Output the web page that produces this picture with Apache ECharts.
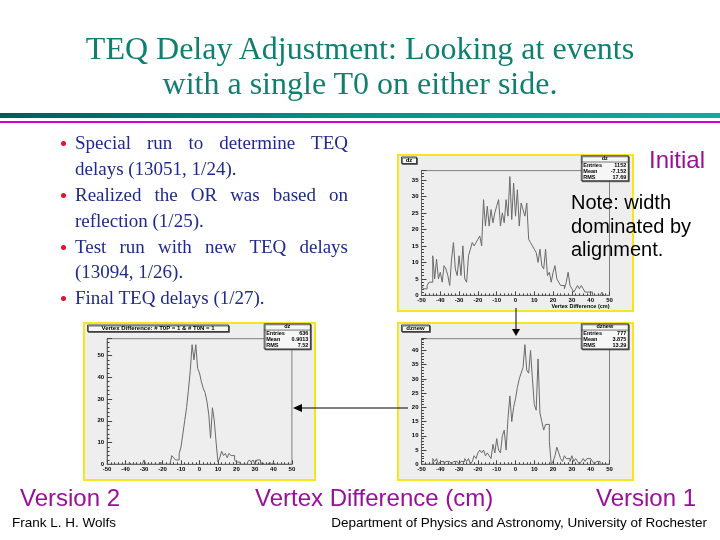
<!DOCTYPE html>
<html lang="en">
<head>
<meta charset="UTF-8">
<title>TEQ Delay Adjustment</title>
<script src="https://cdn.jsdelivr.net/npm/echarts@6.0.0/dist/echarts.min.js"></script>
<style>
  html, body { margin: 0; padding: 0; background: #fff; }
  #slide { position: relative; width: 720px; height: 540px; overflow: hidden; }
  #main { position: absolute; left: 0; top: 0; width: 720px; height: 540px; }
  .t { position: absolute; white-space: nowrap; line-height: 1; }
  .title { left: 0; width: 720px; text-align: center; font-family: 'Liberation Serif', serif;
           font-size: 32px; line-height: 32px; color: #0f7f70; }
  .rule1 { position: absolute; left: 0; top: 113px; width: 720px; height: 5px;
           background: linear-gradient(to right, #005d58, #00908c 45%, #10aaa8); }
  .rule2 { position: absolute; left: 0; top: 121px; width: 720px; height: 2px; background: #d400d4; }
  .bl { position: absolute; left: 75px; width: 273px; font-family: 'Liberation Serif', serif;
        font-size: 19px; line-height: 26px; color: #1f2a8c; white-space: nowrap; }
  .bl.full { text-align: justify; text-align-last: justify; white-space: normal; }
  .dot { position: absolute; left: 61px; width: 5px; height: 5px; border-radius: 50%; background: #e5102c; }
  .sans { font-family: 'Liberation Sans', Arial, sans-serif; }
  .purple { color: #9a0f9a; font-size: 24px; }
  .note { font-size: 20px; color: #000; }
  .foot { font-size: 13.5px; color: #000; }
</style>
</head>
<body>
<div id="slide">
  <div id="main"></div>

  <div class="t title" style="top:32px">TEQ Delay Adjustment: Looking at events</div>
  <div class="t title" style="top:67px">with a single T0 on either side.</div>
  <div class="rule1"></div>
  <div class="rule2"></div>

  <div class="dot" style="top:141px"></div>
  <div class="bl full" style="top:130px">Special run to determine TEQ</div>
  <div class="bl" style="top:156px">delays (13051, 1/24).</div>
  <div class="dot" style="top:193px"></div>
  <div class="bl full" style="top:182px">Realized the OR was based on</div>
  <div class="bl" style="top:208px">reflection (1/25).</div>
  <div class="dot" style="top:245px"></div>
  <div class="bl full" style="top:234px">Test run with new TEQ delays</div>
  <div class="bl" style="top:259px">(13094, 1/26).</div>
  <div class="dot" style="top:296px"></div>
  <div class="bl" style="top:285px">Final TEQ delays (1/27).</div>

  <div class="t sans purple" style="left:649px; top:148px">Initial</div>
  <div class="t sans note" style="left:571px; top:192px">Note: width</div>
  <div class="t sans note" style="left:571px; top:216px">dominated by</div>
  <div class="t sans note" style="left:571px; top:239px">alignment.</div>

  <div class="t sans purple" style="left:20px; top:486px">Version 2</div>
  <div class="t sans purple" style="left:255px; top:486px">Vertex Difference (cm)</div>
  <div class="t sans purple" style="left:596px; top:486px">Version 1</div>

  <div class="t sans foot" style="left:12px; top:516px">Frank L. H. Wolfs</div>
  <div class="t sans foot" style="right:13px; top:516px">Department of Physics and Astronomy, University of Rochester</div>
</div>

<script>
  // histogram binning: 100 bins of 1 cm from -50 to 50
  const binLow = -50;
  const binWidth = 1;

  // Initial (dz), counts per bin
  const dzInitial = [
    3, 2, 2, 3, 4, 4, 12, 5, 11, 5,
    7, 4, 9, 8, 6, 3, 11, 16, 8, 6,
    12, 6, 15, 5, 4, 12, 14, 16, 15, 16,
    17, 18, 15, 29, 21, 27, 21, 26, 22, 25,
    27, 29, 21, 25, 22, 29, 24, 36, 23, 34,
    24, 32, 21, 28, 26, 24, 28, 17, 16, 15,
    14, 13, 10, 14, 9, 8, 14, 6, 7, 4,
    7, 9, 5, 4, 3, 3, 2, 4, 7, 3,
    2, 1, 2, 3, 2, 3, 2, 1, 1, 1,
    1, 0, 0, 0, 0, 0, 1, 0, 0, 0
  ];
  // Version 1 (dznew)
  const dzVersion1 = [
    0, 0, 0, 0, 0, 0, 2, 1, 2, 0,
    1, 1, 0, 1, 1, 1, 0, 1, 1, 1,
    0, 1, 1, 2, 1, 2, 0, 1, 3, 2,
    4, 5, 4, 5, 3, 4, 3, 2, 7, 4,
    9, 5, 4, 10, 12, 5, 16, 24, 15, 20,
    23, 27, 30, 32, 34, 42, 33, 32, 40, 30,
    21, 19, 37, 18, 15, 12, 14, 14, 8, 0,
    1, 3, 6, 4, 2, 1, 3, 2, 2, 1,
    3, 1, 2, 1, 0, 1, 2, 1, 2, 2,
    2, 1, 0, 1, 1, 0, 0, 0, 0, 0
  ];
  // Version 2 (dz, single T0 on each side)
  const dzVersion2 = [
    0, 0, 0, 0, 0, 0, 0, 0, 0, 0,
    0, 0, 1, 0, 0, 0, 0, 0, 0, 0,
    2, 0, 0, 0, 0, 0, 0, 0, 0, 1,
    0, 0, 0, 0, 0, 4, 3, 2, 2, 5,
    8, 14, 20, 26, 34, 43, 55, 48, 55, 44,
    42, 38, 35, 33, 29, 23, 12, 26, 20, 10,
    1, 3, 6, 4, 5, 3, 5, 4, 4, 2,
    1, 1, 0, 0, 0, 0, 1, 2, 1, 2,
    0, 2, 2, 0, 1, 0, 0, 0, 1, 0,
    1, 0, 0, 0, 0, 0, 0, 0, 0, 0
  ];

  const histNames = ['dz', 'dznew', 'Vertex Difference: # T0P = 1 & # T0N = 1'];
  const statTitles = ['dz', 'dznew', 'dz'];
  const statLabels = ['Entries', 'Mean', 'RMS'];
  const statInitial = ['1152', '-7.152', '17.69'];
  const statVersion1 = ['777', '3.875', '13.29'];
  const statVersion2 = ['636', '0.9013', '7.52'];
  const yMax = [37.8, 44.1, 57.75];
  const yStep = [5, 5, 10];
  const xTitle = 'Vertex Difference (cm)';

  // pad rectangles on the slide
  const pads = [
    { x: 398, y: 155, w: 235, h: 156, titleW: 15 },
    { x: 398, y: 323, w: 235, h: 157, titleW: 28 },
    { x: 84, y: 323, w: 231, h: 157, titleW: 141 }
  ];
  const counts = [dzInitial, dzVersion1, dzVersion2];
  const stats = [statInitial, statVersion1, statVersion2];

  // outline of the histogram: each bin becomes a flat top from its low to its high edge
  function histPoints(c) {
    const pts = [[binLow, 0]];
    c.forEach((v, i) => {
      pts.push([binLow + i * binWidth, v]);
      pts.push([binLow + (i + 1) * binWidth, v]);
    });
    pts.push([binLow + c.length * binWidth, 0]);
    return pts;
  }

  const lab = { fontFamily: 'Liberation Sans', fontWeight: 'bold', fontSize: 6, color: '#000' };
  const grids = [], xAxes = [], yAxes = [], series = [], graphics = [];

  pads.forEach((p, i) => {
    // pad background with the yellow border
    graphics.push({ type: 'rect', z: -10, silent: true,
      shape: { x: p.x, y: p.y, width: p.w, height: p.h },
      style: { fill: '#eeeeee', stroke: '#f4e81c', lineWidth: 2 } });

    grids.push({ left: p.x + 0.1 * p.w, top: p.y + 0.1 * p.h, width: 0.8 * p.w, height: 0.8 * p.h,
      show: true, backgroundColor: '#eeeeee', borderColor: '#808080', borderWidth: 1, containLabel: false });

    xAxes.push({ type: 'value', gridIndex: i, min: -50, max: 50, interval: 10,
      axisLine: { show: true, onZero: false, lineStyle: { color: '#666' } },
      axisTick: { inside: true, length: 4, lineStyle: { color: '#444' } },
      minorTick: { show: true, splitNumber: 5, length: 2, lineStyle: { color: '#444' } },
      axisLabel: Object.assign({ margin: 2 }, lab),
      splitLine: { show: false } });

    yAxes.push({ type: 'value', gridIndex: i, min: 0, max: yMax[i], interval: yStep[i],
      axisLine: { show: true, onZero: false, lineStyle: { color: '#666' } },
      axisTick: { inside: true, length: 5, lineStyle: { color: '#444' } },
      minorTick: { show: true, splitNumber: 5, length: 2.5, lineStyle: { color: '#444' } },
      axisLabel: Object.assign({ margin: 3, showMaxLabel: false }, lab),
      splitLine: { show: false } });

    series.push({ type: 'line', xAxisIndex: i, yAxisIndex: i,
      data: histPoints(counts[i]), symbol: 'none', clip: true,
      lineStyle: { width: 1, color: '#6a6a6a' } });

    // title box at the top left of the pad
    graphics.push({ type: 'rect', z: 5, silent: true,
      shape: { x: p.x + 3.5, y: p.y + 2, width: p.titleW, height: 6.5 },
      style: { fill: '#f6f6f6', stroke: '#222', lineWidth: 0.8, shadowColor: '#555', shadowOffsetX: 1, shadowOffsetY: 1 } });
    graphics.push({ type: 'text', z: 6, silent: true,
      style: { x: p.x + 3.5 + p.titleW / 2, y: p.y + 5.4, text: histNames[i], align: 'center', verticalAlign: 'middle',
        font: 'bold 6px "Liberation Sans"', fill: '#000' } });

    // statistics box at the top right
    const sx = p.x + 0.78 * p.w, sw = 0.2 * p.w, sy = p.y + 0.005 * p.h, sh = 0.16 * p.h;
    graphics.push({ type: 'rect', z: 5, silent: true,
      shape: { x: sx, y: sy, width: sw, height: sh },
      style: { fill: '#f6f6f6', stroke: '#222', lineWidth: 0.8, shadowColor: '#555', shadowOffsetX: 1, shadowOffsetY: 1 } });
    const row = sh / 4;
    graphics.push({ type: 'line', z: 6, silent: true,
      shape: { x1: sx, y1: sy + row, x2: sx + sw, y2: sy + row }, style: { stroke: '#222', lineWidth: 0.6 } });
    graphics.push({ type: 'text', z: 6, silent: true,
      style: { x: sx + sw / 2, y: sy + row / 2, text: statTitles[i], align: 'center', verticalAlign: 'middle',
        font: 'bold 5.5px "Liberation Sans"', fill: '#000' } });
    statLabels.forEach((name, k) => {
      const ry = sy + row * (k + 1.5);
      graphics.push({ type: 'text', z: 6, silent: true,
        style: { x: sx + 2, y: ry, text: name, align: 'left', verticalAlign: 'middle',
          font: 'bold 5.5px "Liberation Sans"', fill: '#000' } });
      graphics.push({ type: 'text', z: 6, silent: true,
        style: { x: sx + sw - 2, y: ry, text: stats[i][k], align: 'right', verticalAlign: 'middle',
          font: 'bold 5.5px "Liberation Sans"', fill: '#000' } });
    });
  });

  // x axis title of the first pad
  graphics.push({ type: 'text', z: 6, silent: true,
    style: { x: pads[0].x + 0.9 * pads[0].w, y: 306, text: xTitle, align: 'right', verticalAlign: 'middle',
      font: 'bold 5.5px "Liberation Sans"', fill: '#000' } });

  // arrows between the pads
  graphics.push({ type: 'line', z: 8, silent: true,
    shape: { x1: 516, y1: 308, x2: 516, y2: 330 }, style: { stroke: '#000', lineWidth: 1 } });
  graphics.push({ type: 'polygon', z: 8, silent: true,
    shape: { points: [[512, 329], [520, 329], [516, 336]] }, style: { fill: '#000' } });
  graphics.push({ type: 'line', z: 8, silent: true,
    shape: { x1: 408, y1: 408, x2: 300, y2: 408 }, style: { stroke: '#000', lineWidth: 1 } });
  graphics.push({ type: 'polygon', z: 8, silent: true,
    shape: { points: [[293, 408], [302, 404], [302, 412]] }, style: { fill: '#000' } });

  const myChart = echarts.init(document.getElementById('main'), null, { renderer: 'canvas' });
  myChart.setOption({
    animation: false,
    backgroundColor: 'transparent',
    grid: grids,
    xAxis: xAxes,
    yAxis: yAxes,
    series: series,
    graphic: graphics
  });
</script>
</body>
</html>
